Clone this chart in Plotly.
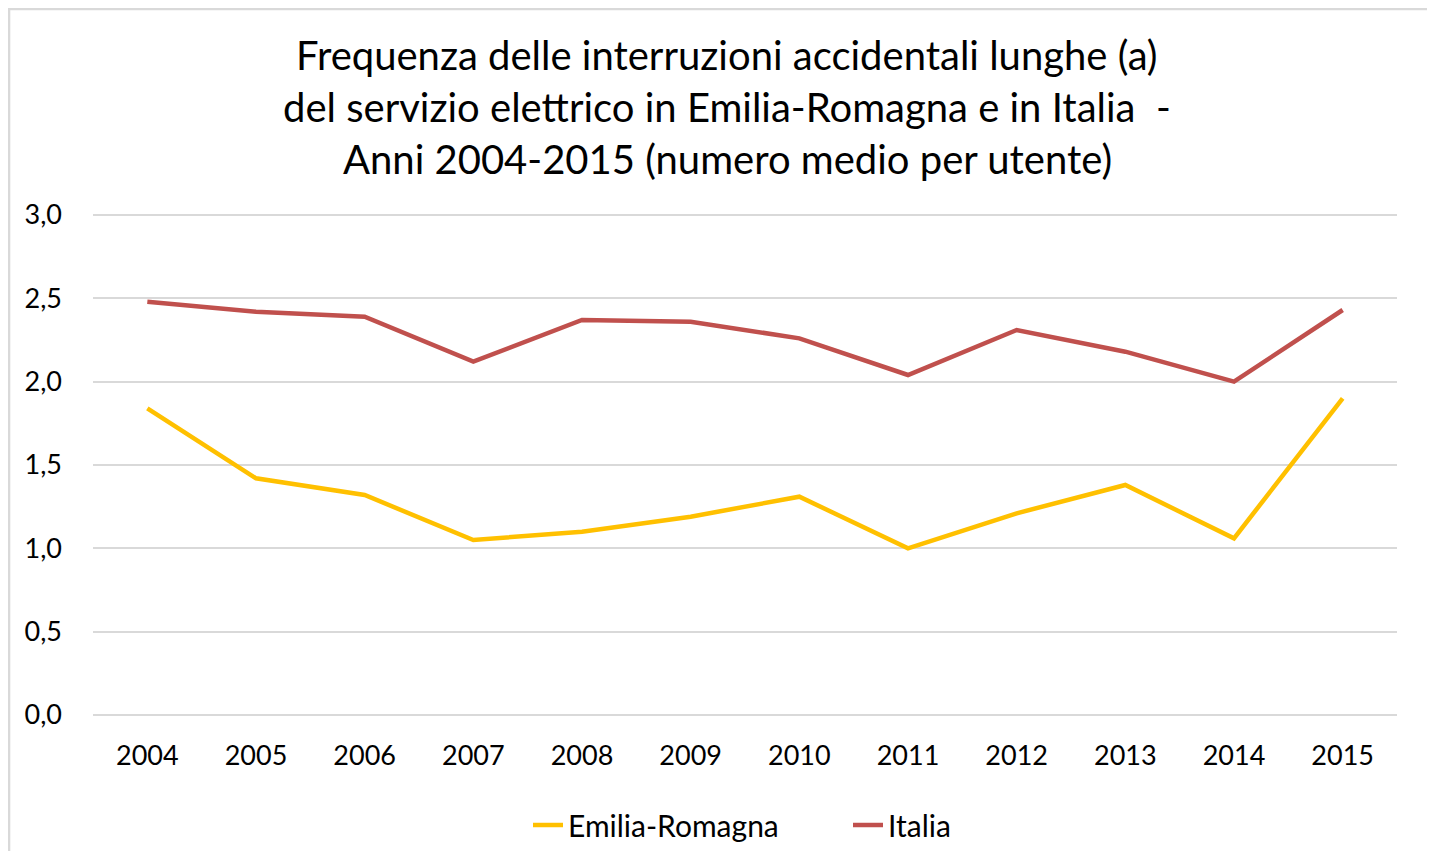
import plotly.graph_objects as go

years = ["2004", "2005", "2006", "2007", "2008", "2009", "2010", "2011", "2012", "2013", "2014", "2015"]
emilia_romagna = [1.84, 1.42, 1.32, 1.05, 1.10, 1.19, 1.31, 1.00, 1.21, 1.38, 1.06, 1.90]
italia = [2.48, 2.42, 2.39, 2.12, 2.37, 2.36, 2.26, 2.04, 2.31, 2.18, 2.00, 2.43]

title_lines = [
    "Frequenza delle interruzioni accidentali lunghe (a)",
    "del servizio elettrico in Emilia-Romagna e in Italia  -",
    "Anni 2004-2015 (numero medio per utente)",
]

FONT = "Lato"
OFF = 8  # page offset of the figure (body margin)
W, H = 1435 - OFF, 859 - 2 * OFF
PAD = 0.03  # small y-range padding so the 0 and 3 grid lines are drawn
unit = 500 / 3.0
L = 93 - OFF
R = W - (1397 - OFF)
T = int(round(215 - OFF - PAD * unit))
B = int(round(H - (715 - OFF + PAD * unit)))
pw, ph = W - L - R, H - T - B


def py(y_screen):
    return (H - B - (y_screen - OFF)) / ph


def px(x_screen):
    return ((x_screen - OFF) - L) / pw


fig = go.Figure()
fig.add_trace(go.Scatter(x=years, y=emilia_romagna, name="Emilia-Romagna", mode="lines",
                         line=dict(color="#FFC000", width=4.5)))
fig.add_trace(go.Scatter(x=years, y=italia, name="Italia", mode="lines",
                         line=dict(color="#C0504D", width=4.5)))

annotations = []
for i, line in enumerate(title_lines):
    annotations.append(dict(text=line, xref="paper", yref="paper", x=px(727),
                            y=py(55 + i * 52), xanchor="center", yanchor="middle",
                            showarrow=False, font=dict(family=FONT, size=40, color="#000000")))

border = dict(color="#D9D9D9", width=2.5)
fig.update_layout(
    width=W, height=H,
    margin=dict(l=L, r=R, t=T, b=B, autoexpand=False),
    paper_bgcolor="white", plot_bgcolor="white",
    separators=",.",
    showlegend=True,
    legend=dict(orientation="h", xref="container", yref="container",
                x=(528 - OFF) / W, xanchor="left", y=(H - (825 - OFF)) / H, yanchor="middle",
                font=dict(family=FONT, size=30, color="#000000"), entrywidth=275,
                bgcolor="rgba(0,0,0,0)"),
    annotations=annotations,
    shapes=[
        dict(type="line", xref="paper", yref="paper", x0=-L / pw + 0.0008, x1=-L / pw + 0.0008,
             y0=-B / ph - 0.1, y1=1 + T / ph, line=border, layer="below"),
        dict(type="line", xref="paper", yref="paper", x0=-L / pw, x1=1 + R / pw + 0.1,
             y0=1 + T / ph - 0.002, y1=1 + T / ph - 0.002, line=border, layer="below"),
    ],
    xaxis=dict(type="category", range=[-0.5, 11.5], showgrid=False, zeroline=False,
               showline=False, ticks="", ticklabelstandoff=17,
               tickfont=dict(family=FONT, size=27, color="#000000")),
    yaxis=dict(range=[-PAD, 3 + PAD], tickvals=[0, 0.5, 1, 1.5, 2, 2.5, 3], tickformat=".1f",
               showgrid=True, gridcolor="#D9D9D9",
               gridwidth=1.5, zeroline=False, showline=False, ticks="", ticklabelstandoff=30,
               tickfont=dict(family=FONT, size=27, color="#000000")),
)

fig.write_html("out.html")
